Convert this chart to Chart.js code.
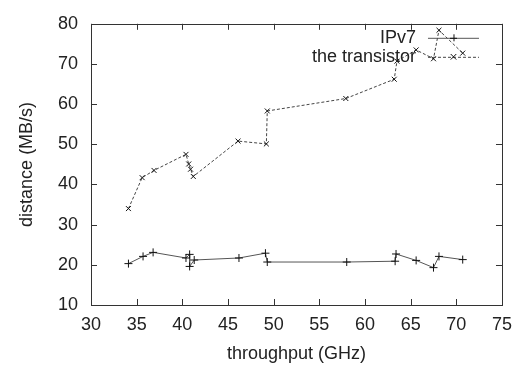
<!DOCTYPE html>
<html>
<head>
<meta charset="utf-8">
<script src="https://cdn.jsdelivr.net/npm/chart.js@4.4.0/dist/chart.umd.min.js"></script>
<style>
  html, body { margin: 0; padding: 0; background: #fff; }
  #wrap { width: 521px; height: 366px; }
</style>
</head>
<body>
<div id="wrap"><canvas id="chart" width="521" height="366"></canvas></div>
<script>
// series data
const ipv7X = [34.1, 35.7, 36.8, 40.4, 40.8, 40.8, 41.3, 46.2, 49.1, 49.3, 58.0, 63.3, 63.4, 65.6, 67.5, 68.1, 70.7];
const ipv7Y = [20.3, 22.1, 23.1, 21.7, 22.6, 19.6, 21.2, 21.7, 22.9, 20.7, 20.7, 20.9, 22.7, 21.1, 19.3, 22.1, 21.3];

const transX = [34.1, 35.6, 36.9, 40.4, 40.7, 40.9, 41.2, 46.1, 49.2, 49.3, 57.9, 63.2, 63.5, 65.6, 67.5, 68.1, 70.7];
const transY = [34.0, 41.7, 43.5, 47.5, 45.1, 43.8, 42.0, 50.8, 50.1, 58.3, 61.4, 66.2, 70.7, 73.5, 71.3, 78.4, 72.7];

const seriesNames = ['IPv7', 'the transistor'];
const xTicks = [30, 35, 40, 45, 50, 55, 60, 65, 70, 75];
const yTicks = [10, 20, 30, 40, 50, 60, 70, 80];

function toPoints(xs, ys) {
    return xs.map((x, i) => ({ x: x, y: ys[i] }));
}

const FONT = '"Liberation Sans", Arial, sans-serif';
const TEXT = '#222';
const FS = 18;

// gnuplot style frame, inward ticks and legend
const framePlugin = {
    id: 'frame',
    afterDraw(chart) {
        const ctx = chart.ctx;
        const a = chart.chartArea;
        const xs = chart.scales.x, ys = chart.scales.y;
        ctx.save();
        ctx.strokeStyle = '#333';
        ctx.lineWidth = 1;
        ctx.strokeRect(Math.round(a.left) + 0.5, Math.round(a.top) + 0.5,
            Math.round(a.right - a.left), Math.round(a.bottom - a.top));
        ctx.beginPath();
        xTicks.forEach(v => {
            const p = Math.round(xs.getPixelForValue(v)) + 0.5;
            ctx.moveTo(p, a.bottom); ctx.lineTo(p, a.bottom - 6);
            ctx.moveTo(p, a.top); ctx.lineTo(p, a.top + 6);
        });
        yTicks.forEach(v => {
            const p = Math.round(ys.getPixelForValue(v)) + 0.5;
            ctx.moveTo(a.left, p); ctx.lineTo(a.left + 6, p);
            ctx.moveTo(a.right, p); ctx.lineTo(a.right - 6, p);
        });
        ctx.stroke();

        // legend
        ctx.font = FS + 'px ' + FONT;
        ctx.fillStyle = TEXT;
        ctx.textAlign = 'right';
        ctx.textBaseline = 'middle';
        const textRight = a.right - 86;
        const x0 = a.right - 74, x1 = a.right - 23;
        chart.data.datasets.forEach((ds, i) => {
            const yy = a.top + 14 + i * 19;
            ctx.fillText(ds.label, textRight, yy);
            ctx.strokeStyle = ds.borderColor;
            ctx.setLineDash(ds.borderDash || []);
            ctx.beginPath();
            ctx.moveTo(x0, yy + 0.5); ctx.lineTo(x1, yy + 0.5);
            ctx.stroke();
            ctx.setLineDash([]);
            ctx.strokeStyle = '#111';
            const mx = (x0 + x1) / 2, r = 3.5;
            ctx.beginPath();
            if (ds.pointStyle === 'cross') {
                ctx.moveTo(mx - r, yy + 0.5); ctx.lineTo(mx + r, yy + 0.5);
                ctx.moveTo(mx + 0.5, yy - r); ctx.lineTo(mx + 0.5, yy + r);
            } else {
                ctx.moveTo(mx - r * 0.8, yy - r * 0.8); ctx.lineTo(mx + r * 0.8, yy + r * 0.8);
                ctx.moveTo(mx + r * 0.8, yy - r * 0.8); ctx.lineTo(mx - r * 0.8, yy + r * 0.8);
            }
            ctx.stroke();
        });
        ctx.restore();
    }
};

new Chart(document.getElementById('chart'), {
    type: 'scatter',
    data: {
        datasets: [
            {
                label: seriesNames[0],
                data: toPoints(ipv7X, ipv7Y),
                showLine: true,
                borderColor: '#555',
                borderWidth: 1,
                pointStyle: 'cross',
                pointRadius: 4,
                pointBorderColor: '#111',
                pointBorderWidth: 1,
                pointBackgroundColor: '#111'
            },
            {
                label: seriesNames[1],
                data: toPoints(transX, transY),
                showLine: true,
                borderColor: '#444',
                borderWidth: 1,
                borderDash: [3, 2],
                pointStyle: 'crossRot',
                pointRadius: 3.5,
                pointBorderColor: '#111',
                pointBorderWidth: 1,
                pointBackgroundColor: '#111'
            }
        ]
    },
    options: {
        responsive: false,
        animation: false,
        layout: { padding: { top: 15, right: 19, left: 0, bottom: 0 } },
        plugins: {
            legend: { display: false },
            tooltip: { enabled: false }
        },
        scales: {
            x: {
                type: 'linear',
                min: 30, max: 75,
                afterBuildTicks: s => { s.ticks = xTicks.map(v => ({ value: v })); },
                afterFit: s => { s.height = 61; },
                grid: { display: false, drawTicks: false },
                border: { display: false },
                ticks: { font: { family: FONT, size: FS }, color: TEXT, padding: 9, maxRotation: 0 },
                title: { display: true, text: 'throughput (GHz)', font: { family: FONT, size: FS }, color: TEXT, padding: { top: 0, bottom: 1 } }
            },
            y: {
                type: 'linear',
                min: 10, max: 80,
                afterBuildTicks: s => { s.ticks = yTicks.map(v => ({ value: v })); },
                afterFit: s => { s.width = 91; },
                grid: { display: false, drawTicks: false },
                border: { display: false },
                ticks: { font: { family: FONT, size: FS }, color: TEXT, padding: 13 },
                title: { display: true, text: 'distance (MB/s)', font: { family: FONT, size: FS }, color: TEXT, padding: { top: 16, bottom: 0 } }
            }
        }
    },
    plugins: [framePlugin]
});
</script>
</body>
</html>
